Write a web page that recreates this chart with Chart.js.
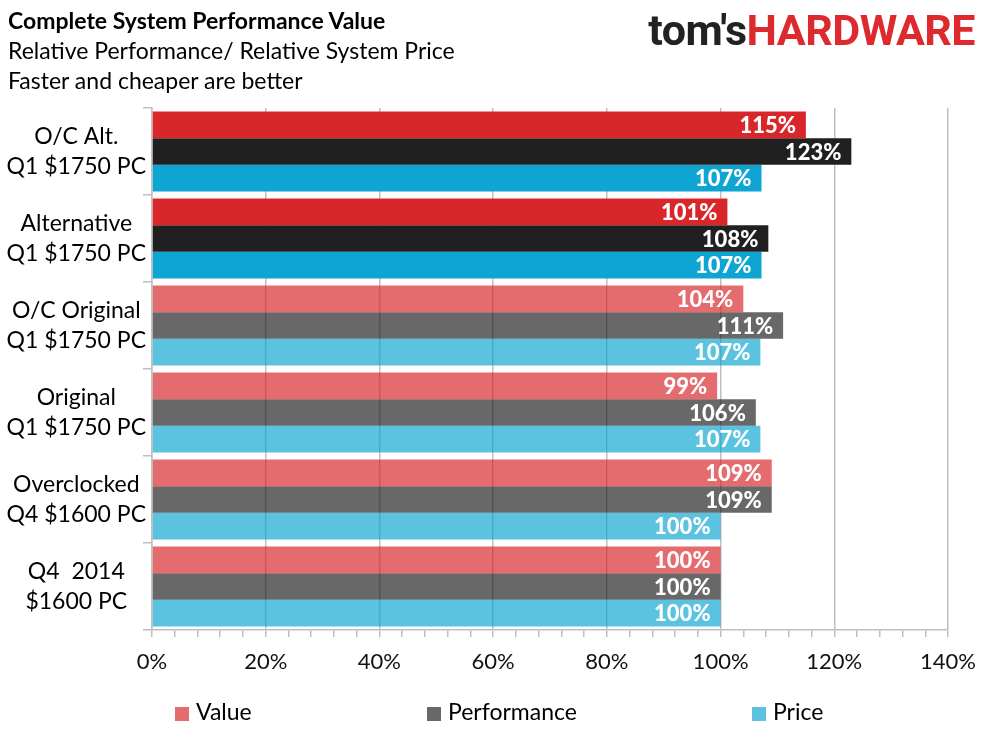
<!DOCTYPE html>
<html>
<head>
<meta charset="utf-8">
<script src="https://cdn.jsdelivr.net/npm/chart.js@4"></script>
<style>
  body { margin: 0; background: #fff; }
  #wrap { position: relative; width: 989px; height: 742px; overflow: hidden; font-family: Lato, "Noto Sans", sans-serif; }
  #chart { position: absolute; left: 0; top: 0; }
  .head { position: absolute; left: 8px; color: #000; white-space: nowrap; }
  #t1 { top: 6px; font-size: 23px; font-weight: bold; }
  #t2 { top: 36px; font-size: 23px; }
  #t3 { top: 66px; font-size: 23px; }
  #logo { position: absolute; right: 14px; top: 5px; font-family: Roboto, sans-serif; font-weight: bold; font-size: 43px; letter-spacing: -0.5px; white-space: nowrap; }
  #logo .a { color: #222; }
  #logo .b { color: #DD2A2E; }
  .leg { position: absolute; top: 697px; font-size: 23px; color: #000; white-space: nowrap; }
  .leg span { display: inline-block; width: 14px; height: 14px; margin-right: 7px; vertical-align: -1px; }
</style>
</head>
<body>
<div id="wrap">
  <canvas id="chart" width="989" height="742"></canvas>
  <div class="head" id="t1">Complete System Performance Value</div>
  <div class="head" id="t2">Relative Performance/ Relative System Price</div>
  <div class="head" id="t3">Faster and cheaper are better</div>
  <div id="logo"><span class="a">tom's</span><span class="b">HARDWARE</span></div>
  <div id="legend"></div>
</div>
<script>
const categories = [
    ["O/C Alt.", "Q1 $1750 PC"],
    ["Alternative", "Q1 $1750 PC"],
    ["O/C Original", "Q1 $1750 PC"],
    ["Original", "Q1 $1750 PC"],
    ["Overclocked", "Q4 $1600 PC"],
    ["Q4  2014", "$1600 PC"]
];
const seriesNames = ["Value", "Performance", "Price"];
const valueData = [115, 101.2, 104, 99.4, 109, 100];
const performanceData = [123, 108.4, 111, 106.2, 109, 100];
const priceData = [107.2, 107.2, 107, 107, 100, 100];
// the two new builds are drawn in full colour, the rest faded
const highlighted = [true, true, false, false, false, false];
const xTickValues = [0, 20, 40, 60, 80, 100, 120, 140];

const baseColors = [[217, 38, 42], [33, 32, 32], [14, 165, 210]];
const fadeAlpha = 0.68;

function rgba(c, a) {
    return `rgba(${c[0]},${c[1]},${c[2]},${a})`;
}

const seriesData = [valueData, performanceData, priceData];
const gridGray = '#BFBFBF';

const datasets = seriesNames.map((name, i) => ({
    label: name,
    data: seriesData[i],
    backgroundColor: highlighted.map(h => rgba(baseColors[i], h ? 1 : fadeAlpha)),
    borderWidth: 0,
    barPercentage: 1,
    categoryPercentage: 0.92
}));

// white value labels at the end of each bar
const barLabels = {
    id: 'barLabels',
    afterDatasetsDraw(chart) {
        const ctx = chart.ctx;
        ctx.save();
        ctx.fillStyle = '#fff';
        ctx.font = '900 22px Lato, "Noto Sans", sans-serif';
        ctx.textAlign = 'right';
        ctx.textBaseline = 'middle';
        chart.data.datasets.forEach((ds, i) => {
            chart.getDatasetMeta(i).data.forEach((bar, j) => {
                ctx.fillText(Math.round(ds.data[j]) + '%', bar.x - 10, bar.y + 1);
            });
        });
        ctx.restore();
    }
};

new Chart(document.getElementById('chart'), {
    type: 'bar',
    data: { labels: categories, datasets: datasets },
    options: {
        indexAxis: 'y',
        responsive: false,
        animation: false,
        layout: { padding: { top: 108, right: 41, left: 0, bottom: 0 } },
        plugins: {
            legend: { display: false },
            tooltip: { enabled: false }
        },
        scales: {
            x: {
                type: 'linear',
                min: 0,
                max: 140,
                afterFit(scale) { scale.height = 112; },
                border: { color: gridGray, width: 1.5 },
                grid: {
                    color: c => (c.tick && xTickValues.includes(c.tick.value)) ? gridGray : 'rgba(0,0,0,0)',
                    tickColor: gridGray,
                    lineWidth: 1.5,
                    tickLength: 7
                },
                ticks: {
                    stepSize: 4,
                    autoSkip: false,
                    maxRotation: 0,
                    padding: 12,
                    color: '#111',
                    font: { family: 'Lato, "Noto Sans", sans-serif', size: 22 },
                    callback: v => xTickValues.includes(v) ? v + '%' : ''
                }
            },
            y: {
                afterFit(scale) { scale.width = 152; },
                border: { color: gridGray, width: 1.5 },
                grid: {
                    offset: true,
                    drawOnChartArea: false,
                    color: gridGray,
                    lineWidth: 1.5,
                    tickLength: 9
                },
                ticks: {
                    crossAlign: 'center',
                    color: '#000',
                    padding: -3,
                    font: { family: 'Lato, "Noto Sans", sans-serif', size: 23, lineHeight: 1.32 }
                }
            }
        }
    },
    plugins: [barLabels]
});

// legend spread across the bottom like the original
const legendX = [175, 427, 752];
const legend = document.getElementById('legend');
seriesNames.forEach((name, i) => {
    const item = document.createElement('div');
    item.className = 'leg';
    item.style.left = legendX[i] + 'px';
    item.innerHTML = `<span style="background:${rgba(baseColors[i], fadeAlpha)}"></span>${name}`;
    legend.appendChild(item);
});
</script>
</body>
</html>
